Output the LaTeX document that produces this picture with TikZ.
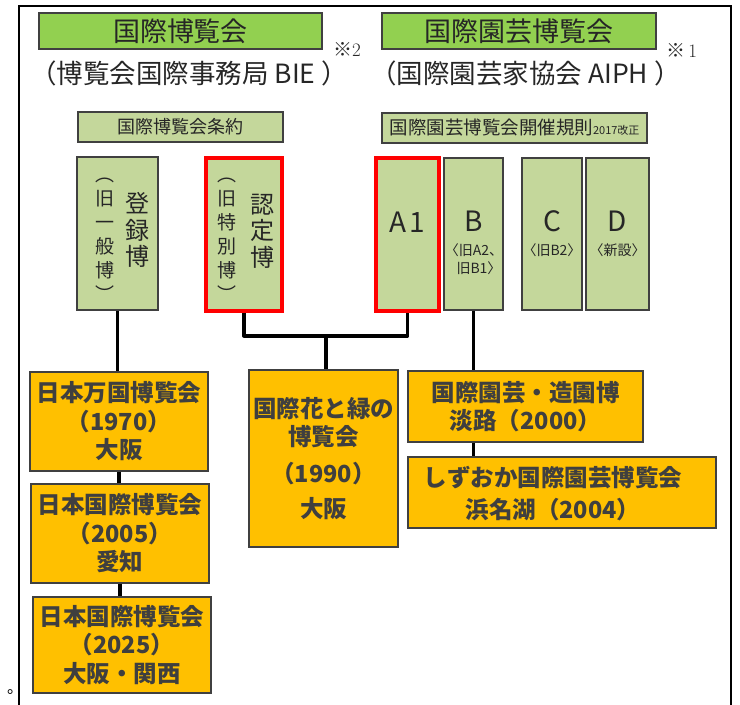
\documentclass[tikz,border=0pt]{standalone}
\usepackage{fontspec}
\usetikzlibrary{calc}
\setmainfont{Noto Sans CJK JP}
\newfontfamily\lmr{Latin Modern Roman}
\definecolor{gbright}{HTML}{92D050}
\definecolor{glight}{HTML}{C4D79B}
\definecolor{orng}{HTML}{FFC000}
\definecolor{bord}{HTML}{404040}
\definecolor{txt}{HTML}{262626}
\definecolor{otxt}{HTML}{3F3F3F}
\definecolor{redb}{HTML}{FF0000}
\tikzset{
  framepath/.style={line width=2pt, black},
  headbox/.style={draw=bord, line width=1.3pt, fill=gbright, inner sep=0pt, text=txt,
    font=\fontsize{27}{30}\selectfont},
  rulebox/.style={draw=bord, line width=1.3pt, fill=glight, inner sep=0pt, text=txt},
  catbox/.style={draw=bord, line width=1.3pt, fill=glight, inner sep=0pt},
  redbox/.style={draw=redb, line width=3.5pt, fill=glight, inner sep=0pt},
  expbox/.style={draw=bord, line width=1.3pt, fill=orng, inner sep=0pt, text=otxt,
    align=center, font=\fontsize{23.5}{28.5}\selectfont\bfseries},
  subtitle/.style={inner sep=0pt, text=txt, font=\fontsize{26.5}{28}\selectfont},
  vcol/.style={inner sep=0pt, text=txt, align=center},
  bigletter/.style={inner sep=0pt, text=txt, font=\fontsize{28}{30}\selectfont},
  smallnote/.style={inner sep=0pt, text=txt, align=center, font=\fontsize{14}{18}\selectfont},
  refmark/.style={inner sep=0pt, anchor=west, text=txt, font=\fontsize{19}{19}\selectfont},
  conn/.style={line width=3.8pt, black}
}
\begin{document}
\begin{tikzpicture}[x=1pt,y=-1pt]
\useasboundingbox (0,0) rectangle (740,705);
% outer frame
\draw[framepath] (19,705) -- (19,6) -- (731,6) -- (731,705);
\node[inner sep=0pt, font=\fontsize{16}{16}\selectfont] (maru) at (15,692) {。};

% headings
\node[headbox, minimum width=283pt, minimum height=36pt] (g1) at (180.5,31) {国際博覧会};
\node[headbox, minimum width=274pt, minimum height=36pt] (g2) at (519,31) {国際園芸博覧会};
\node[subtitle, anchor=west] (s1) at (30,73) {（博覧会国際事務局 BIE ）};
\node[subtitle, anchor=west] (s2) at (370,73) {（国際園芸家協会 AIPH ）};
\node[refmark] (n2) at (333,49) {※{\lmr 2}};
\node[refmark] (n1) at (666,50) {※\,{\lmr 1}};

% rules
\node[rulebox, minimum width=205pt, minimum height=30pt, font=\fontsize{18}{20}\selectfont] (l1) at (180.5,127) {国際博覧会条約};
\node[rulebox, minimum width=265pt, minimum height=30pt, font=\fontsize{18.5}{20}\selectfont] (l2) at (514.5,128)
  {国際園芸博覧会開催規則{\fontsize{11}{12}\selectfont 2017改正}};

% category boxes
\node[catbox, minimum width=81pt, minimum height=153pt] (v1) at (117.5,233.5) {};
\node[redbox, minimum width=76pt, minimum height=153pt] (v2) at (244,234.5) {};
\node[redbox, minimum width=63pt, minimum height=153pt] (a1) at (407.5,234.5) {};
\node[catbox, minimum width=59pt, minimum height=152pt] (cb) at (473.5,234) {};
\node[catbox, minimum width=60pt, minimum height=152pt] (cc) at (552,234) {};
\node[catbox, minimum width=63pt, minimum height=152pt] (cd) at (617.5,234) {};

\node[vcol, font=\fontsize{24}{26.5}\selectfont] (v1r) at (137,230) {登\\録\\博};
\node[vcol, font=\fontsize{19}{24}\selectfont] (v1l) at (105,240) {︵\\旧\\一\\般\\博\\︶};
\node[vcol, font=\fontsize{24}{26.5}\selectfont] (v2r) at (262,231) {認\\定\\博};
\node[vcol, font=\fontsize{19}{24}\selectfont] (v2l) at (227,240) {︵\\旧\\特\\別\\博\\︶};

\node[bigletter] (a1t) at (407.5,222) {A\hspace{3pt}1};
\node[bigletter] (cbt) at (473.5,221) {B};
\node[smallnote] (cbn) at (474,259) {〈旧A2、\\\hspace{10pt}旧B1〉};
\node[bigletter] (cct) at (552,221) {C};
\node[smallnote] (ccn) at (552,250) {〈旧B2〉};
\node[bigletter] (cdt) at (617.5,221) {D};
\node[smallnote] (cdn) at (617.5,250) {〈新設〉};

% exhibitions
\node[expbox, minimum width=178pt, minimum height=99pt] (o1) at (119,421.5) {日本万国博覧会\\（1970）\\大阪};
\node[expbox, minimum width=178pt, minimum height=99pt] (o2) at (120,533.5) {日本国際博覧会\\（2005）\\愛知};
\node[expbox, minimum width=178pt, minimum height=96pt] (o3) at (122,645) {日本国際博覧会\\（2025）\\大阪・関西};
\node[expbox, minimum width=149pt, minimum height=177pt] (o4) at (323.5,458.5) {国際花と緑の\\博覧会\\[8pt]（1990）\\[7pt]大阪};
\node[expbox, minimum width=235pt, minimum height=71pt] (o5) at (525.5,406.5) {国際園芸・造園博\\淡路（2000）};
\node[expbox, minimum width=308pt, minimum height=71pt] (o6) at (562,492.5) {};
\node[expbox, draw=none, fill=none, font=\fontsize{23.5}{32}\selectfont\bfseries] (o6t) at (553,494) {しずおか国際園芸博覧会\\浜名湖（2004）};

% connectors
\draw[conn] (v1.south) -- (v1.south |- o1.north);
\draw[conn] (o1.south) -- (o1.south |- o2.north);
\draw[conn] (o2.south) -- (o2.south |- o3.north);
\coordinate (jl) at ([yshift=-23pt]v2.south);
\coordinate (jr) at (jl -| a1.south);
\coordinate (jm) at ($(jl)!0.5!(jr)$);
\draw[conn, line join=round] (v2.south) -- (jl) -- (jr) -- (a1.south);
\draw[conn] (jm) -- (jm |- o4.north);
\draw[conn] (cb.south) -- (cb.south |- o5.north);
\draw[conn] (o5.south -| cb.south) -- (cb.south |- o6.north);
\end{tikzpicture}
\end{document}
